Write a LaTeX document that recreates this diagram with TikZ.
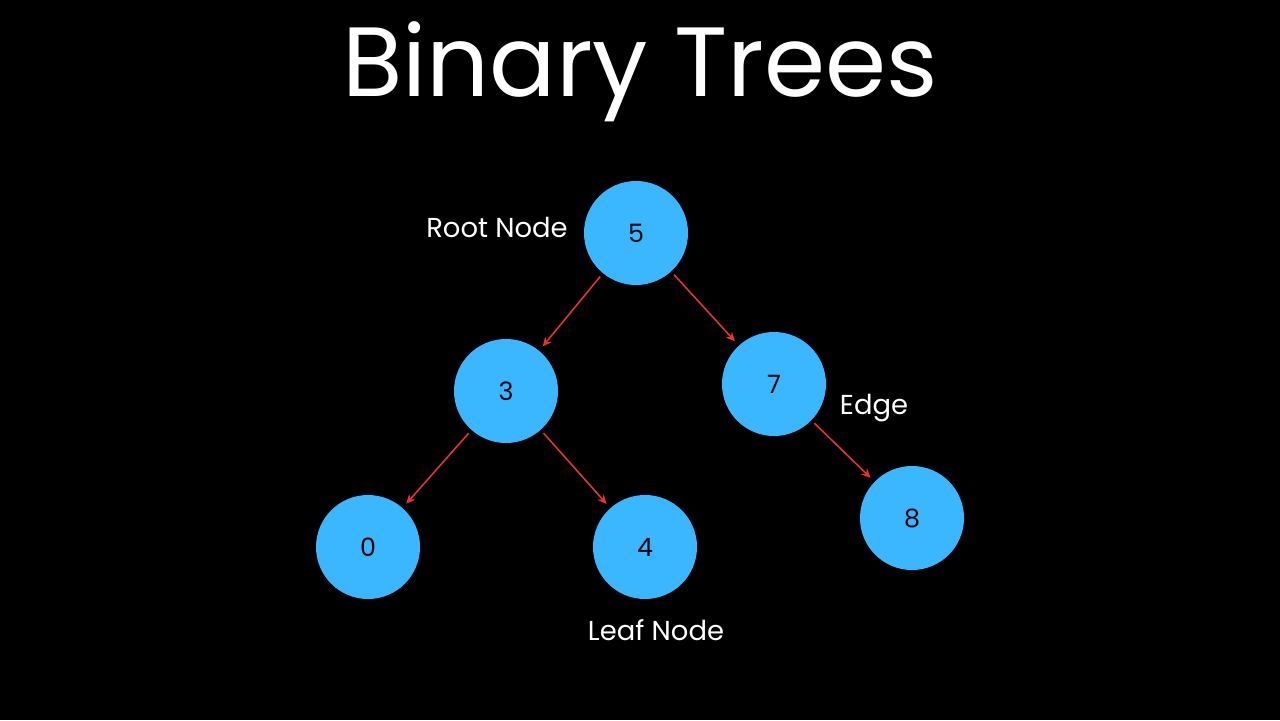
\documentclass[tikz,border=0pt]{standalone}
\usepackage{fontspec}
\setmainfont{Poppins}
\usetikzlibrary{arrows.meta}
\definecolor{nodeblue}{RGB}{59,183,255}
\definecolor{edgered}{RGB}{235,50,50}
\begin{document}
\begin{tikzpicture}[x=0.05cm,y=-0.05cm,
  tn/.style={circle,fill=nodeblue,minimum size=104*0.05cm,inner sep=0pt,font=\fontsize{36}{40}\selectfont},
  lbl/.style={text=white,font=\fontsize{39}{44}\selectfont},
  edge/.style={draw=edgered,line width=2.2pt,-{Stealth[length=13pt,width=12pt]},shorten <=6pt,shorten >=8pt}]
\fill[black] (0,0) rectangle (1280,720);
\useasboundingbox (0,0) rectangle (1280,720);
\node[text=white,font=\fontsize{140}{150}\selectfont] (title) at (640,72) {Binary Trees};
\node[tn] (n5) at (636,233) {5};
\node[tn] (n3) at (506,391) {3};
\node[tn] (n7) at (774,384) {7};
\node[tn] (n0) at (368,547) {0};
\node[tn] (n4) at (645,547) {4};
\node[tn] (n8) at (912,518) {8};
\draw[edge] (n5) -- (n3);
\draw[edge] (n5) -- (n7);
\draw[edge] (n3) -- (n0);
\draw[edge] (n3) -- (n4);
\draw[edge] (n7) -- (n8);
\node[lbl] (root) at (497,227) {Root Node};
\node[lbl] (edgel) at (874,408) {Edge};
\node[lbl] (leaf) at (656,630) {Leaf Node};
\end{tikzpicture}
\end{document}
